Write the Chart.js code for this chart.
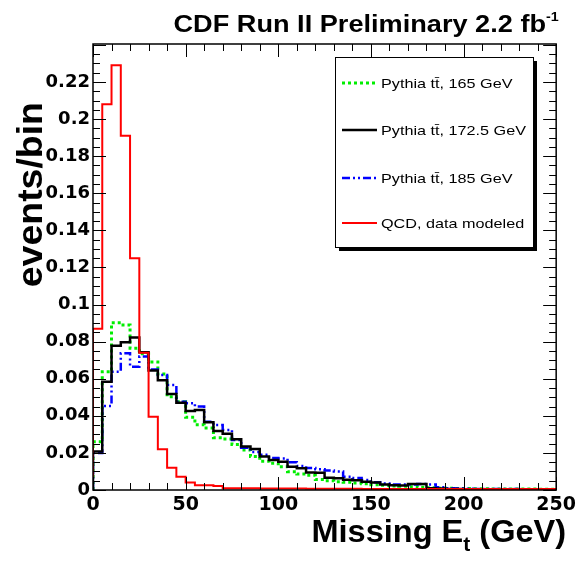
<!DOCTYPE html>
<html>
<head>
<meta charset="utf-8">
<script src="https://cdn.jsdelivr.net/npm/chart.js@4/dist/chart.umd.min.js"></script>
<style>
  html, body { margin: 0; padding: 0; background: #fff; }
  #wrap { width: 580px; height: 563px; }
</style>
</head>
<body>
<div id="wrap"><canvas id="chart" width="580" height="563"></canvas></div>
<script>
// lower edges of the 5 GeV bins, last bin closes at 250
const binLow = [
  0, 5, 10, 15, 20, 25, 30, 35, 40, 45,
  50, 55, 60, 65, 70, 75, 80, 85, 90, 95,
  100, 105, 110, 115, 120, 125, 130, 135, 140, 145,
  150, 155, 160, 165, 170, 175, 180, 185, 190, 195,
  200, 205, 210, 215, 220, 225, 230, 235, 240, 245
];
const binHigh = 250;

const top165 = [
  0.026, 0.0638, 0.0902, 0.0890, 0.0765, 0.0735, 0.0690, 0.0625, 0.0503, 0.0476,
  0.0392, 0.0352, 0.0335, 0.0282, 0.0275, 0.0245, 0.0216, 0.0180, 0.0155, 0.0144,
  0.0126, 0.0099, 0.0086, 0.0080, 0.0056, 0.0050, 0.0045, 0.0042, 0.0038, 0.0034,
  0.0028, 0.0025, 0.0022, 0.0020, 0.0018, 0.0015, 0.0012, 0.0010, 0.0009, 0.0008,
  0.0008, 0.0007, 0.0007, 0.0006, 0.0006, 0.0005, 0.0005, 0.0005, 0.0004, 0.0004
];
const top1725 = [
  0.0207, 0.0584, 0.0778, 0.0797, 0.0822, 0.0743, 0.0645, 0.0592, 0.0518, 0.0471,
  0.0426, 0.0431, 0.0366, 0.0318, 0.0303, 0.0274, 0.0234, 0.0221, 0.0180, 0.0162,
  0.0152, 0.0126, 0.0117, 0.0094, 0.0093, 0.0066, 0.0064, 0.0055, 0.0052, 0.0045,
  0.0040, 0.0030, 0.0025, 0.0024, 0.0032, 0.0032, 0.0010, 0.0008, 0.0006, 0.0005,
  0.0004, 0.0004, 0.0003, 0.0003, 0.0003, 0.0002, 0.0002, 0.0002, 0.0002, 0.0002
];
const top185 = [
  0.020, 0.0453, 0.0638, 0.0737, 0.0665, 0.0720, 0.0650, 0.0620, 0.0566, 0.0476,
  0.0468, 0.0450, 0.0368, 0.0350, 0.0324, 0.0270, 0.0228, 0.0205, 0.0190, 0.0172,
  0.0170, 0.0149, 0.0130, 0.0118, 0.0112, 0.0105, 0.0100, 0.0072, 0.0065, 0.0054,
  0.0042, 0.0035, 0.0030, 0.0030, 0.0030, 0.0032, 0.0030, 0.0015, 0.0010, 0.0008,
  0.0007, 0.0006, 0.0006, 0.0005, 0.0005, 0.0005, 0.0004, 0.0004, 0.0004, 0.0003
];
const qcd = [
  0.087, 0.208, 0.229, 0.191, 0.125, 0.074, 0.0395, 0.022, 0.012, 0.0072,
  0.0041, 0.0026, 0.0025, 0.0022, 0.0010, 0.0009, 0.0009, 0.0009, 0.0008, 0.0008,
  0.0008, 0.0008, 0.0008, 0.0007, 0.0007, 0.0007, 0.0007, 0.0007, 0.0007, 0.0006,
  0.0006, 0.0006, 0.0006, 0.0006, 0.0006, 0.0006, 0.0006, 0.0006, 0.0005, 0.0005,
  0.0005, 0.0005, 0.0005, 0.0005, 0.0005, 0.0005, 0.0005, 0.0005, 0.0005, 0.0005
];

const xTicks = [0, 50, 100, 150, 200, 250];
const yTicks = [0, 0.02, 0.04, 0.06, 0.08, 0.1, 0.12, 0.14, 0.16, 0.18, 0.2, 0.22];
const yMax = 0.2405;

const legendLabels = [
  'Pythia tt\u0304, 165 GeV',
  'Pythia tt\u0304, 172.5 GeV',
  'Pythia tt\u0304, 185 GeV',
  'QCD, data modeled'
];

// histogram -> step points (first point at 0, closing point at binHigh)
function toSteps(vals) {
  const pts = [{ x: binLow[0], y: 0 }];
  binLow.forEach((x, i) => pts.push({ x: x, y: vals[i] }));
  pts.push({ x: binHigh, y: vals[vals.length - 1] });
  return pts;
}

function histo(label, vals, color, width, dash, order) {
  return {
    label: label,
    data: toSteps(vals),
    borderColor: color,
    borderWidth: width,
    borderDash: dash,
    stepped: true,
    pointRadius: 0,
    fill: false,
    order: order
  };
}

const FONT = '"Liberation Sans", Arial, sans-serif';
const TICKFONT = '"DejaVu Sans", sans-serif';

// draw text stretched in x (the original is a bit wider than tall)
function wideText(ctx, text, x, y, sx, align) {
  const w = ctx.measureText(text).width * sx;
  let x0 = x;
  if (align === 'right') x0 = x - w;
  if (align === 'center') x0 = x - w / 2;
  ctx.save();
  ctx.translate(x0, y);
  ctx.scale(sx, 1);
  ctx.textAlign = 'left';
  ctx.fillText(text, 0, 0);
  ctx.restore();
  return w;
}

const rootStyle = {
  id: 'rootStyle',
  afterDraw(chart) {
    const ctx = chart.ctx;
    const a = chart.chartArea;
    const xs = chart.scales.x, ys = chart.scales.y;
    ctx.save();

    // frame
    ctx.strokeStyle = '#000';
    ctx.lineWidth = 1.5;
    ctx.strokeRect(a.left, a.top, a.right - a.left, a.bottom - a.top);

    // ticks on all four sides, pointing inwards
    ctx.lineWidth = 1;
    ctx.beginPath();
    for (let v = 0; v <= binHigh; v += 10) {
      const px = Math.round(xs.getPixelForValue(v)) + 0.5;
      const len = (v % 50 === 0) ? 13 : 7;
      ctx.moveTo(px, a.bottom); ctx.lineTo(px, a.bottom - len);
      ctx.moveTo(px, a.top); ctx.lineTo(px, a.top + len);
    }
    for (let k = 0; k * 0.005 <= yMax; k++) {
      const py = Math.round(ys.getPixelForValue(k * 0.005)) + 0.5;
      const len = (k % 4 === 0) ? 13 : 7;
      ctx.moveTo(a.left, py); ctx.lineTo(a.left + len, py);
      ctx.moveTo(a.right, py); ctx.lineTo(a.right - len, py);
    }
    ctx.stroke();

    ctx.fillStyle = '#000';
    ctx.textBaseline = 'alphabetic';

    // title
    ctx.font = 'bold 23px ' + FONT;
    wideText(ctx, 'CDF Run II Preliminary 2.2 fb', 546, 32, 1.18, 'right');
    ctx.font = 'bold 13px ' + FONT;
    wideText(ctx, '-1', 546, 21, 1.1, 'left');

    // x title with subscript t
    const sx = 1.05;
    const right = a.right + 10;
    ctx.font = 'bold 31px ' + FONT;
    const tail = ' (GeV)';
    const wTail = ctx.measureText(tail).width * sx;
    ctx.font = 'bold 20px ' + FONT;
    const wSub = ctx.measureText('t').width * sx;
    ctx.font = 'bold 31px ' + FONT;
    wideText(ctx, tail, right, 542, sx, 'right');
    ctx.font = 'bold 20px ' + FONT;
    wideText(ctx, 't', right - wTail, 551, sx, 'right');
    ctx.font = 'bold 31px ' + FONT;
    wideText(ctx, 'Missing E', right - wTail - wSub, 542, sx, 'right');

    // y title, rotated, right-aligned at the top
    ctx.save();
    ctx.translate(42, 102);
    ctx.rotate(-Math.PI / 2);
    ctx.font = 'bold 35px ' + FONT;
    wideText(ctx, 'events/bin', 0, 0, 1.07, 'right');
    ctx.restore();

    // legend box with shadow
    const bx = 335, by = 57, bw = 198, bh = 190;
    ctx.fillStyle = '#000';
    ctx.fillRect(bx + 4, by + 4, bw, bh);
    ctx.fillStyle = '#fff';
    ctx.fillRect(bx, by, bw, bh);
    ctx.strokeStyle = '#000';
    ctx.lineWidth = 1;
    ctx.strokeRect(bx + 0.5, by + 0.5, bw, bh);

    const rowY = [83, 130, 178, 223];
    chart.data.datasets.forEach((ds, i) => {
      const y = rowY[i];
      ctx.save();
      ctx.strokeStyle = ds.borderColor;
      ctx.lineWidth = ds.borderWidth;
      ctx.setLineDash(ds.borderDash || []);
      ctx.beginPath();
      ctx.moveTo(342, y); ctx.lineTo(377, y);
      ctx.stroke();
      ctx.restore();
      ctx.fillStyle = '#000';
      ctx.font = '13.5px ' + FONT;
      wideText(ctx, legendLabels[i], 381, y + 5, 1.2, 'left');
    });

    ctx.restore();
  }
};

new Chart(document.getElementById('chart'), {
  type: 'line',
  data: {
    datasets: [
      histo(legendLabels[0], top165, '#00ee00', 3, [3, 3], 3),
      histo(legendLabels[1], top1725, '#000000', 2.5, [], 1),
      histo(legendLabels[2], top185, '#0000ff', 2.5, [8, 3, 2, 3, 2, 3], 2),
      histo(legendLabels[3], qcd, '#ff0000', 2, [], 0)
    ]
  },
  options: {
    responsive: false,
    animation: false,
    layout: { padding: { left: 0, top: 44, right: 13, bottom: 0 } },
    plugins: {
      legend: { display: false },
      tooltip: { enabled: false }
    },
    scales: {
      x: {
        type: 'linear',
        min: 0,
        max: binHigh,
        grid: { display: false, drawTicks: false },
        border: { display: false },
        afterBuildTicks: s => { s.ticks = xTicks.map(v => ({ value: v })); },
        afterFit: s => { s.height = 73; },
        ticks: {
          color: '#000',
          padding: 4,
          maxRotation: 0,
          font: { family: TICKFONT, size: 19, weight: 'bold' },
          callback: v => String(v)
        }
      },
      y: {
        type: 'linear',
        min: 0,
        max: yMax,
        grid: { display: false, drawTicks: false },
        border: { display: false },
        afterBuildTicks: s => { s.ticks = yTicks.map(v => ({ value: v })); },
        afterFit: s => { s.width = 93; },
        ticks: {
          color: '#000',
          padding: 3,
          font: { family: TICKFONT, size: 18, weight: 'bold' },
          callback: v => String(parseFloat(Number(v).toFixed(3)))
        }
      }
    }
  },
  plugins: [rootStyle]
});
</script>
</body>
</html>
